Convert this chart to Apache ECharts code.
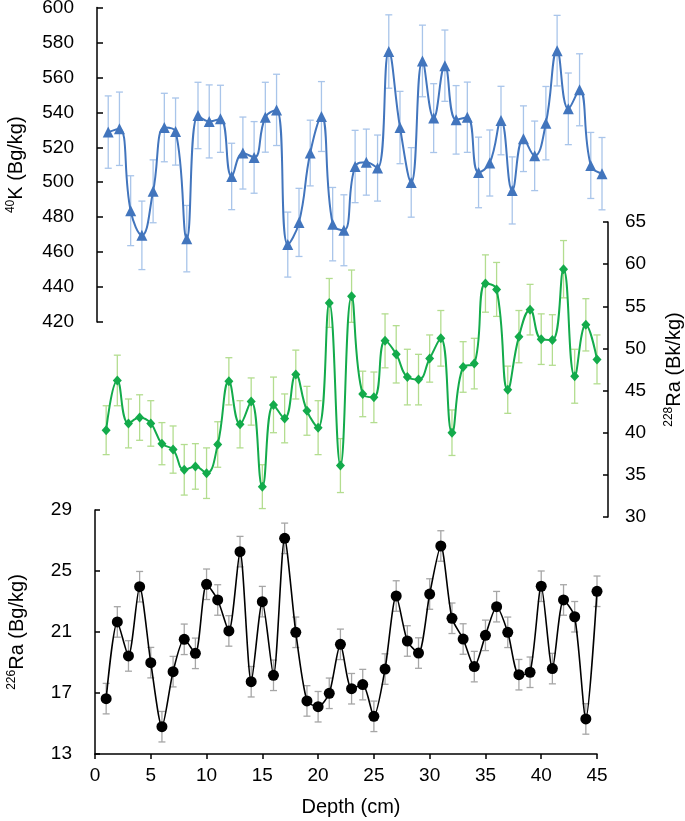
<!DOCTYPE html>
<html>
<head>
<meta charset="utf-8">
<script src="https://cdn.jsdelivr.net/npm/echarts@6/dist/echarts.min.js"></script>
<style>
  html, body { margin: 0; padding: 0; background: #fff; }
  #chart { width: 685px; height: 821px; }
</style>
</head>
<body>
<div id="chart"></div>
<script>
// depth of each sample (cm)
const depth = [1, 2, 3, 4, 5, 6, 7, 8, 9, 10, 11, 12, 13, 14, 15, 16, 17, 18, 19, 20,
  21, 22, 23, 24, 25, 26, 27, 28, 29, 30, 31, 32, 33, 34, 35, 36, 37, 38, 39, 40,
  41, 42, 43, 44, 45];

// 40K activity (Bq/kg) and its uncertainty
const k40 = [528.7, 530.6, 483.7, 469.6, 494.8, 531.3, 529.0, 467.7, 538.2, 534.8,
  536.3, 503.3, 516.7, 514.2, 537.2, 541.4, 464.3, 477.0, 516.7, 537.6,
  476.0, 472.5, 509.0, 511.5, 508.1, 574.8, 531.3, 499.9, 569.4, 536.7,
  566.7, 535.7, 537.2, 505.6, 511.0, 535.3, 495.3, 524.9, 515.1, 533.8,
  575.3, 542.0, 552.9, 509.6, 504.9];
const k40Err = [20.7, 21.0, 20.0, 19.6, 18.0, 19.6, 19.2, 19.0, 19.0, 20.9,
  19.2, 19.0, 20.6, 20.5, 20.0, 20.4, 18.6, 19.5, 18.8, 20.0,
  21.0, 20.3, 20.7, 18.9, 18.9, 21.0, 20.7, 19.9, 20.5, 19.7,
  20.4, 19.6, 20.1, 20.2, 18.9, 19.6, 19.2, 18.8, 19.9, 21.0,
  20.2, 20.5, 20.6, 18.9, 20.7];

// 228Ra activity
const ra228 = [40.3, 46.2, 41.1, 41.8, 41.1, 38.7, 38.0, 35.6, 36.0, 35.2,
  38.6, 46.1, 41.0, 43.7, 33.6, 43.3, 41.7, 46.9, 42.6, 40.6,
  55.4, 36.1, 56.2, 44.6, 44.2, 50.9, 49.3, 46.6, 46.3, 48.8,
  51.2, 40.0, 47.8, 48.2, 57.7, 57.0, 45.1, 51.4, 54.6, 51.1,
  51.0, 59.4, 46.7, 52.8, 48.7];
const ra228Err = [2.9, 3.0, 2.9, 2.7, 2.7, 2.5, 2.8, 3.0, 2.7, 3.0,
  2.7, 2.8, 2.8, 2.8, 2.6, 3.3, 2.9, 2.9, 2.9, 3.2,
  2.9, 3.2, 3.1, 2.7, 3.0, 3.2, 3.4, 3.3, 3.0, 2.8,
  3.3, 2.7, 3.0, 3.0, 3.4, 3.2, 2.8, 3.1, 3.0, 3.0,
  3.0, 3.4, 3.2, 3.1, 2.9];

// 226Ra activity
const ra226 = [16.63, 21.66, 19.43, 23.97, 18.99, 14.79, 18.40, 20.52, 19.60, 24.13,
  23.10, 21.07, 26.27, 17.74, 22.99, 18.16, 27.14, 20.98, 16.48, 16.10,
  16.98, 20.19, 17.28, 17.55, 15.47, 18.57, 23.36, 20.41, 19.62, 23.49,
  26.64, 21.90, 20.54, 18.73, 20.78, 22.66, 20.98, 18.20, 18.36, 24.00,
  18.60, 23.10, 22.00, 15.30, 23.67];
const ra226Err = [1.0, 1.0, 1.0, 1.0, 1.0, 1.0, 1.0, 1.0, 1.0, 1.0,
  1.0, 1.0, 1.0, 1.0, 1.0, 1.0, 1.0, 1.0, 1.0, 1.0,
  1.0, 1.0, 1.0, 1.0, 1.0, 1.0, 1.0, 1.0, 1.0, 1.0,
  1.0, 1.0, 1.0, 1.0, 1.0, 1.0, 1.0, 1.0, 1.0, 1.0,
  1.0, 1.0, 1.0, 1.0, 1.0];

const FONT = 'Liberation Sans, Arial, sans-serif';
const AXIS_COLOR = '#000';

function toPoints(values) {
  return depth.map((d, i) => [d, values[i]]);
}

function toBars(values, errs) {
  return depth.map((d, i) => [d, values[i] - errs[i], values[i] + errs[i]]);
}

function errorBars(color, capHalf) {
  return function (params, api) {
    const x = api.value(0);
    const lo = api.coord([x, api.value(1)]);
    const hi = api.coord([x, api.value(2)]);
    const style = { stroke: color, lineWidth: 1.3 };
    return {
      type: 'group',
      children: [
        { type: 'line', shape: { x1: lo[0], y1: lo[1], x2: hi[0], y2: hi[1] }, style },
        { type: 'line', shape: { x1: lo[0] - capHalf, y1: lo[1], x2: lo[0] + capHalf, y2: lo[1] }, style },
        { type: 'line', shape: { x1: hi[0] - capHalf, y1: hi[1], x2: hi[0] + capHalf, y2: hi[1] }, style }
      ]
    };
  };
}

const nameRich = {
  sup: { fontSize: 12, verticalAlign: 'top', lineHeight: 22, fontFamily: FONT, color: '#000' },
  main: { fontSize: 20, lineHeight: 22, fontFamily: FONT, color: '#000' }
};

const labelStyle = { fontSize: 19, fontFamily: FONT, color: '#000' };

const chart = echarts.init(document.getElementById('chart'));

const option = {
  animation: false,
  backgroundColor: '#fff',
  grid: [
    { left: 97, right: 83, top: 7.5, height: 314.5, outerBoundsMode: 'none' },
    { left: 95, right: 88, top: 222, height: 295, outerBoundsMode: 'none' },
    { left: 95, right: 88, top: 510, height: 244, outerBoundsMode: 'none' }
  ],
  xAxis: [
    { gridIndex: 0, type: 'value', min: 0, max: 45, show: false },
    { gridIndex: 1, type: 'value', min: 0, max: 45, show: false },
    {
      gridIndex: 2,
      type: 'value',
      min: 0,
      max: 45,
      interval: 5,
      name: 'Depth (cm)',
      nameLocation: 'middle',
      nameGap: 43,
      nameTextStyle: { fontSize: 20, fontFamily: FONT, color: '#000', padding: [0, 0, 0, 10] },
      axisLine: { onZero: false, lineStyle: { color: AXIS_COLOR, width: 1.5 } },
      axisTick: { inside: false, length: 5, lineStyle: { color: AXIS_COLOR, width: 1.5 } },
      axisLabel: Object.assign({ margin: 12 }, labelStyle),
      splitLine: { show: false }
    }
  ],
  yAxis: [
    {
      gridIndex: 0,
      type: 'value',
      min: 420,
      max: 600,
      interval: 20,
      position: 'left',
      name: '{sup|40}{main|K (Bg/kg)}',
      nameLocation: 'middle',
      nameRotate: 90,
      nameGap: 70,
      nameTextStyle: { rich: nameRich },
      axisLine: { show: true, onZero: false, lineStyle: { color: AXIS_COLOR, width: 1.5 } },
      axisTick: { show: true, inside: true, length: 6, lineStyle: { color: AXIS_COLOR, width: 1.5 } },
      axisLabel: Object.assign({ margin: 23 }, labelStyle),
      splitLine: { show: false }
    },
    {
      gridIndex: 1,
      type: 'value',
      min: 30,
      max: 65,
      interval: 5,
      position: 'right',
      offset: 11,
      name: '{sup|228}{main|Ra (Bk/kg)}',
      nameLocation: 'middle',
      nameRotate: 90,
      nameGap: 55,
      nameTextStyle: { rich: nameRich },
      axisLine: { show: true, onZero: false, lineStyle: { color: AXIS_COLOR, width: 1.5 } },
      axisTick: { show: true, inside: true, length: 5, lineStyle: { color: AXIS_COLOR, width: 1.5 } },
      axisLabel: Object.assign({ margin: 17 }, labelStyle),
      splitLine: { show: false }
    },
    {
      gridIndex: 2,
      type: 'value',
      min: 13,
      max: 29,
      interval: 4,
      position: 'left',
      name: '{sup|226}{main|Ra (Bg/kg)}',
      nameLocation: 'middle',
      nameRotate: 90,
      nameGap: 67,
      nameTextStyle: { rich: nameRich },
      axisLine: { show: true, onZero: false, lineStyle: { color: AXIS_COLOR, width: 1.5 } },
      axisTick: { show: true, inside: true, length: 5, lineStyle: { color: AXIS_COLOR, width: 1.5 } },
      axisLabel: Object.assign({ margin: 23 }, labelStyle),
      splitLine: { show: false }
    }
  ],
  series: [
    {
      type: 'custom',
      xAxisIndex: 0,
      yAxisIndex: 0,
      clip: false,
      renderItem: errorBars('#a9c5ea', 3.5),
      encode: { x: 0, y: [1, 2] },
      data: toBars(k40, k40Err),
      z: 1
    },
    {
      type: 'line',
      xAxisIndex: 0,
      yAxisIndex: 0,
      smooth: 0.45,
      symbol: 'triangle',
      symbolSize: 11,
      lineStyle: { color: '#4275bd', width: 2 },
      itemStyle: { color: '#4275bd' },
      data: toPoints(k40),
      z: 3
    },
    {
      type: 'custom',
      xAxisIndex: 1,
      yAxisIndex: 1,
      clip: false,
      renderItem: errorBars('#b3dd8f', 3.5),
      encode: { x: 0, y: [1, 2] },
      data: toBars(ra228, ra228Err),
      z: 1
    },
    {
      type: 'line',
      xAxisIndex: 1,
      yAxisIndex: 1,
      smooth: 0.45,
      symbol: 'diamond',
      symbolSize: [9, 10],
      lineStyle: { color: '#13ab4b', width: 2 },
      itemStyle: { color: '#13ab4b' },
      data: toPoints(ra228),
      z: 3
    },
    {
      type: 'custom',
      xAxisIndex: 2,
      yAxisIndex: 2,
      clip: false,
      renderItem: errorBars('#a6a6a6', 3.5),
      encode: { x: 0, y: [1, 2] },
      data: toBars(ra226, ra226Err),
      z: 1
    },
    {
      type: 'line',
      xAxisIndex: 2,
      yAxisIndex: 2,
      smooth: 0.25,
      symbol: 'circle',
      symbolSize: 11,
      lineStyle: { color: '#000', width: 1.6 },
      itemStyle: { color: '#000' },
      data: toPoints(ra226),
      z: 3
    }
  ]
};

chart.setOption(option);
</script>
</body>
</html>
